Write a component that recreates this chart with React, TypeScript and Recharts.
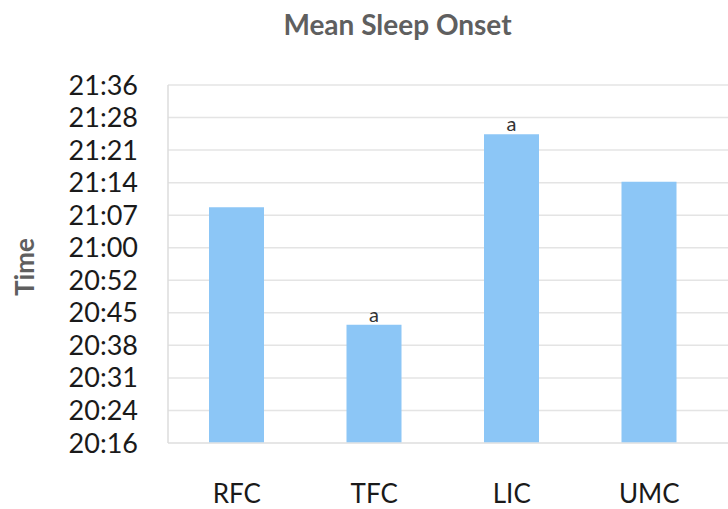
import React from "react";
import { BarChart, Bar, XAxis, YAxis, CartesianGrid, LabelList } from "recharts";

const categories = ["RFC", "TFC", "LIC", "UMC"];
// mean sleep onset in minutes after midnight
const onsetMinutes = [1268.7, 1242.4, 1285.0, 1274.4];
const sigLetters = ["", "a", "a", ""];
const yTickLabels = ["20:16", "20:24", "20:31", "20:38", "20:45", "20:52", "21:00", "21:07", "21:14", "21:21", "21:28", "21:36"];
const yMin = 1216;
const yMax = 1296;

const data = categories.map((c, i) => ({ name: c, value: onsetMinutes[i], sig: sigLetters[i] }));
const yTicks = yTickLabels.map((_, i) => yMin + (i * (yMax - yMin)) / (yTickLabels.length - 1));

const FONT = "Lato, 'Open Sans', sans-serif";

export default function App() {
  return (
    <div style={{ position: "absolute", left: 0, top: 0, width: 728, height: 509, background: "#fff", fontFamily: FONT }}>
      <div
        style={{
          position: "absolute",
          left: 0,
          width: 795,
          top: 7,
          textAlign: "center",
          fontSize: 28,
          fontWeight: 700,
          color: "#5f5f5f",
          lineHeight: "34px",
        }}
      >
        Mean Sleep Onset
      </div>
      <div
        style={{
          position: "absolute",
          left: 24,
          top: 267,
          transform: "translate(-50%, -50%) rotate(-90deg)",
          fontSize: 26,
          fontWeight: 700,
          color: "#5f5f5f",
          whiteSpace: "nowrap",
        }}
      >
        Time
      </div>
      <BarChart width={728} height={509} data={data} margin={{ top: 85, right: 0, bottom: 0, left: 0 }}>
        <CartesianGrid vertical={false} stroke="#e4e4e4" strokeWidth={1.5} />
        <XAxis
          dataKey="name"
          height={66}
          tickSize={0}
          tickMargin={42}
          padding={{ left: 0, right: 10 }}
          axisLine={{ stroke: "#e4e4e4", strokeWidth: 1.5 }}
          tick={{ fill: "#1a1a1a", fontSize: 26, fontFamily: FONT }}
        />
        <YAxis
          width={168}
          domain={[yMin, yMax]}
          ticks={yTicks}
          interval={0}
          allowDataOverflow
          tickSize={0}
          tickMargin={30}
          axisLine={{ stroke: "#dcdcdc", strokeWidth: 1.5 }}
          tickFormatter={(_v: number, i: number) => yTickLabels[i]}
          tick={{ fill: "#1a1a1a", fontSize: 27, fontFamily: FONT }}
        />
        <Bar dataKey="value" fill="#8cc6f6" barSize={55} isAnimationActive={false}>
          <LabelList dataKey="sig" position="top" offset={3} fill="#333" fontSize={20} fontFamily={FONT} />
        </Bar>
      </BarChart>
    </div>
  );
}
